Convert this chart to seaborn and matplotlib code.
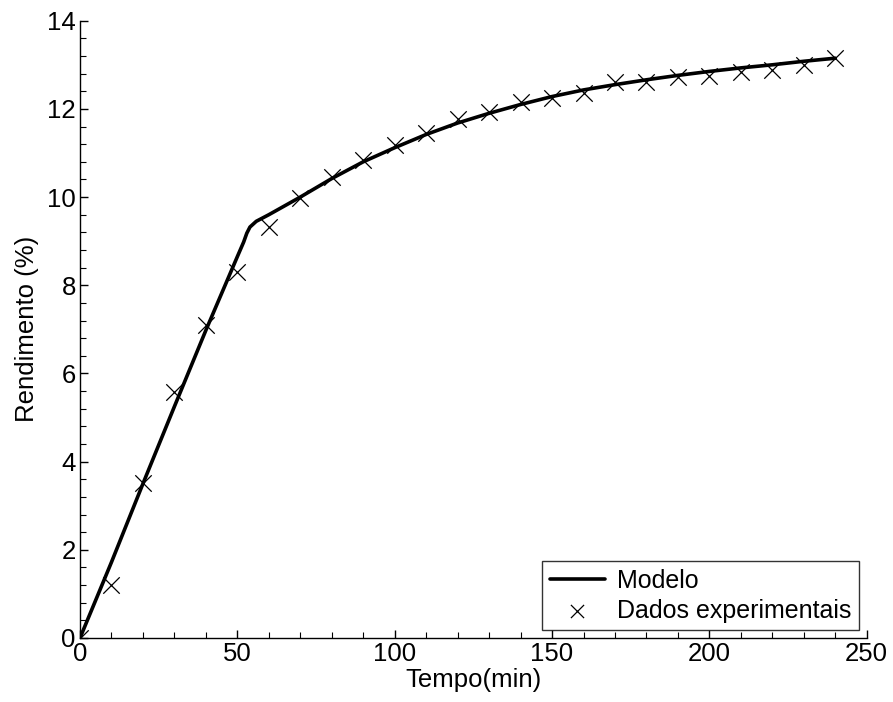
import numpy as np
import pandas as pd
import matplotlib
matplotlib.use("Agg")
import matplotlib.pyplot as plt
from matplotlib.ticker import MultipleLocator
import seaborn as sns

# Model curve
modelo_t = [0, 10, 20, 30, 40, 50, 52, 53, 54, 56, 60, 65, 70, 80, 90, 100, 110,
            120, 130, 140, 150, 160, 170, 180, 190, 200, 210, 220, 230, 240]
modelo_r = [0, 1.72, 3.5, 5.25, 6.98, 8.65, 8.98, 9.18, 9.32, 9.45, 9.6, 9.8, 10.0,
            10.42, 10.8, 11.12, 11.42, 11.68, 11.9, 12.1, 12.28, 12.43, 12.55,
            12.66, 12.76, 12.85, 12.93, 13.0, 13.08, 13.15]

# Experimental points
exp_t = [0, 10, 20, 30, 40, 50, 60, 70, 80, 90, 100, 110, 120, 130, 140, 150,
         160, 170, 180, 190, 200, 210, 220, 230, 240]
exp_r = [0, 1.2, 3.51, 5.57, 7.09, 8.31, 9.32, 9.98, 10.45, 10.85, 11.19, 11.45,
         11.78, 11.92, 12.15, 12.25, 12.36, 12.6, 12.62, 12.72, 12.74, 12.83,
         12.89, 13.0, 13.15]

sns.set_style("white")
plt.rcParams['font.family'] = ['Liberation Sans', 'DejaVu Sans']
plt.rcParams['text.color'] = 'black'
plt.rcParams['axes.labelcolor'] = 'black'

df_modelo = pd.DataFrame({'t': modelo_t, 'r': modelo_r})
df_exp = pd.DataFrame({'t': exp_t, 'r': exp_r})

fig = plt.figure(figsize=(8.93, 7.02), dpi=100)
ax = fig.add_axes([0.0896, 0.0912, 0.8810, 0.8793])

sns.lineplot(data=df_modelo, x='t', y='r', color='black', linewidth=2.6,
             label='Modelo', ax=ax)
sns.scatterplot(data=df_exp, x='t', y='r', marker='x', color='black', s=140,
                linewidth=0.9, label='Dados experimentais', ax=ax, zorder=3)

ax.set_xlim(0, 250)
ax.set_ylim(0, 14)
ax.xaxis.set_major_locator(MultipleLocator(50))
ax.xaxis.set_minor_locator(MultipleLocator(10))
ax.yaxis.set_major_locator(MultipleLocator(2))
ax.yaxis.set_minor_locator(MultipleLocator(0.4))

for s in ['top', 'right']:
    ax.spines[s].set_visible(False)
for s in ['left', 'bottom']:
    ax.spines[s].set_color('black')
    ax.spines[s].set_linewidth(1.0)

ax.tick_params(which='both', direction='in', colors='black', labelsize=18.5)
ax.tick_params(which='major', length=6, width=1, pad=3)
ax.tick_params(which='minor', length=4, width=0.8)
ax.tick_params(axis='y', which='both', left=True)
ax.tick_params(axis='x', which='both', bottom=True)

ax.set_xlabel('Tempo(min)', fontsize=18.5, labelpad=1)
ax.set_ylabel('Rendimento (%)', fontsize=18.5, labelpad=6)

leg = ax.legend(loc='lower right', fontsize=18, frameon=True, fancybox=False,
                borderaxespad=0.3, handlelength=2.2, borderpad=0.3,
                labelspacing=0.25, handletextpad=0.5, markerscale=0.8)
leg.get_frame().set_edgecolor('black')
leg.get_frame().set_linewidth(1.0)

fig.savefig('out.png', dpi=100)
